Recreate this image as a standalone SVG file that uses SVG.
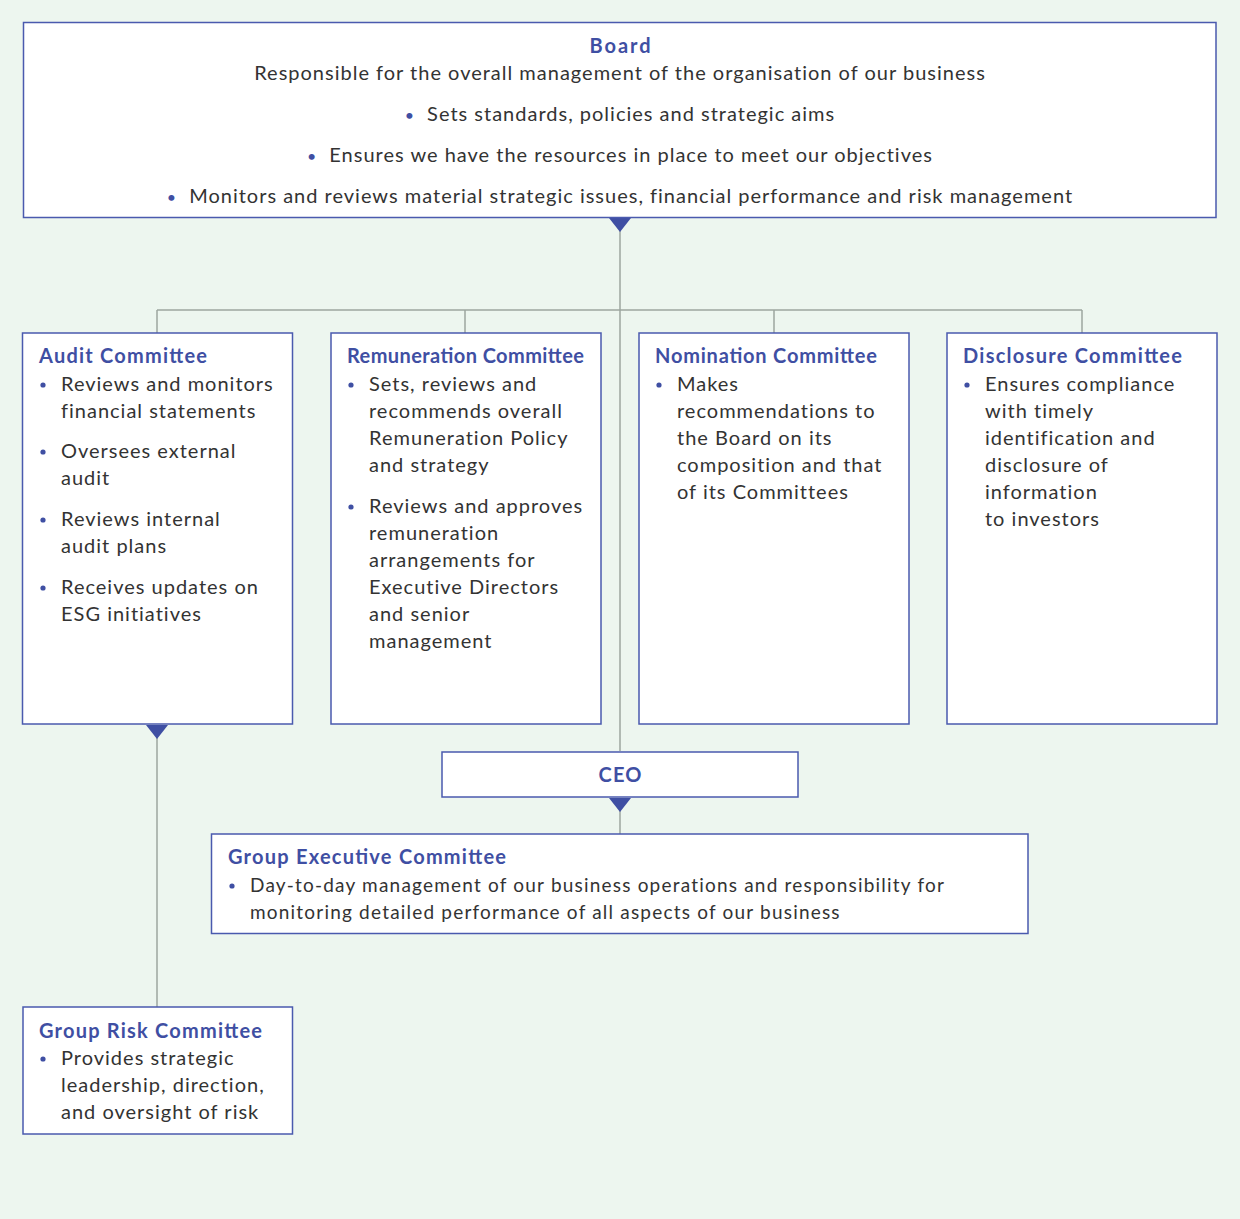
<svg xmlns="http://www.w3.org/2000/svg" width="1240" height="1219" viewBox="0 0 1240 1219">
<defs>
<style>
.bg{fill:#EDF6EF}
.box{fill:#FFFFFF;stroke:#4A5AAE;stroke-width:1.5}
.ln{stroke:#9DA69F;stroke-width:1.5;fill:none}
.tri{fill:#3F4FA3}
.t{font-family:Lato,"Noto Sans","Liberation Sans",sans-serif;font-weight:700;font-size:20px;fill:#3F4FA3}
.x{font-family:Lato,"Noto Sans","Liberation Sans",sans-serif;font-size:20px;fill:#333333;letter-spacing:1px}
.s{font-size:19px;letter-spacing:1.2px}
.b{fill:#3F4FA3;font-size:16px}
.dot{fill:#3F4FA3}
</style>
</defs>
<rect class="bg" x="0" y="0" width="1240" height="1219"/>

<g id="connectors">
<line class="ln" x1="620" y1="228" x2="620" y2="751"/>
<line class="ln" x1="157" y1="310" x2="1082" y2="310"/>
<line class="ln" x1="157" y1="310" x2="157" y2="333"/>
<line class="ln" x1="465" y1="310" x2="465" y2="333"/>
<line class="ln" x1="774" y1="310" x2="774" y2="333"/>
<line class="ln" x1="1082" y1="310" x2="1082" y2="333"/>
<line class="ln" x1="620" y1="806" x2="620" y2="834"/>
<line class="ln" x1="157" y1="734" x2="157" y2="1007"/>
<polygon class="tri" points="609,218 631,218 620,232"/>
<polygon class="tri" points="609,798 631,798 620,812"/>
<polygon class="tri" points="146,725 168,725 157,739"/>
</g>

<g id="board">
<rect class="box" x="23.5" y="22.5" width="1192.5" height="195"/>
<text class="t" x="620" y="53" text-anchor="middle" textLength="61" lengthAdjust="spacing">Board</text>
<text class="x" x="620" y="80" text-anchor="middle">Responsible for the overall management of the organisation of our business</text>
<text class="x" x="620" y="121" text-anchor="middle"><tspan class="b">•</tspan><tspan dx="12">Sets standards, policies and strategic aims</tspan></text>
<text class="x" x="620" y="162" text-anchor="middle"><tspan class="b">•</tspan><tspan dx="12">Ensures we have the resources in place to meet our objectives</tspan></text>
<text class="x" x="620" y="203" text-anchor="middle"><tspan class="b">•</tspan><tspan dx="12">Monitors and reviews material strategic issues, financial performance and risk management</tspan></text>
</g>

<g id="audit">
<rect class="box" x="22.5" y="333" width="270" height="391"/>
<text class="t" x="39" y="363" textLength="168" lengthAdjust="spacing">Audit Committee</text>
<circle class="dot" cx="43" cy="385" r="2.6"/>
<circle class="dot" cx="43" cy="452" r="2.6"/>
<circle class="dot" cx="43" cy="520" r="2.6"/>
<circle class="dot" cx="43" cy="588" r="2.6"/>
<text class="x"><tspan x="61" y="391">Reviews and monitors</tspan><tspan x="61" y="418">financial statements</tspan><tspan x="61" y="458">Oversees external</tspan><tspan x="61" y="485">audit</tspan><tspan x="61" y="526">Reviews internal</tspan><tspan x="61" y="553">audit plans</tspan><tspan x="61" y="594">Receives updates on</tspan><tspan x="61" y="621">ESG initiatives</tspan></text>
</g>

<g id="remuneration">
<rect class="box" x="331" y="333" width="270" height="391"/>
<text class="t" x="347" y="363" textLength="237" lengthAdjust="spacing">Remuneration Committee</text>
<circle class="dot" cx="351" cy="385" r="2.6"/>
<circle class="dot" cx="351" cy="507" r="2.6"/>
<text class="x"><tspan x="369" y="391">Sets, reviews and</tspan><tspan x="369" y="418">recommends overall</tspan><tspan x="369" y="445">Remuneration Policy</tspan><tspan x="369" y="472">and strategy</tspan><tspan x="369" y="513">Reviews and approves</tspan><tspan x="369" y="540">remuneration</tspan><tspan x="369" y="567">arrangements for</tspan><tspan x="369" y="594">Executive Directors</tspan><tspan x="369" y="621">and senior</tspan><tspan x="369" y="648">management</tspan></text>
</g>

<g id="nomination">
<rect class="box" x="639" y="333" width="270" height="391"/>
<text class="t" x="655" y="363" textLength="222" lengthAdjust="spacing">Nomination Committee</text>
<circle class="dot" cx="659" cy="385" r="2.6"/>
<text class="x"><tspan x="677" y="391">Makes</tspan><tspan x="677" y="418">recommendations to</tspan><tspan x="677" y="445">the Board on its</tspan><tspan x="677" y="472">composition and that</tspan><tspan x="677" y="499">of its Committees</tspan></text>
</g>

<g id="disclosure">
<rect class="box" x="947" y="333" width="270" height="391"/>
<text class="t" x="963" y="363" textLength="219" lengthAdjust="spacing">Disclosure Committee</text>
<circle class="dot" cx="967" cy="385" r="2.6"/>
<text class="x"><tspan x="985" y="391">Ensures compliance</tspan><tspan x="985" y="418">with timely</tspan><tspan x="985" y="445">identification and</tspan><tspan x="985" y="472">disclosure of</tspan><tspan x="985" y="499">information</tspan><tspan x="985" y="526">to investors</tspan></text>
</g>

<g id="ceo">
<rect class="box" x="442" y="752" width="356" height="45"/>
<text class="t" x="620" y="782" text-anchor="middle" textLength="43" lengthAdjust="spacing">CEO</text>
</g>

<g id="group-executive">
<rect class="box" x="211.5" y="834" width="816.5" height="99.5"/>
<text class="t" x="228" y="864" textLength="278" lengthAdjust="spacing">Group Executive Committee</text>
<circle class="dot" cx="232" cy="886" r="2.6"/>
<text class="x s"><tspan x="250" y="892">Day-to-day management of our business operations and responsibility for</tspan><tspan x="250" y="919">monitoring detailed performance of all aspects of our business</tspan></text>
</g>

<g id="group-risk">
<rect class="box" x="23" y="1007" width="269.5" height="127"/>
<text class="t" x="39" y="1038" textLength="223" lengthAdjust="spacing">Group Risk Committee</text>
<circle class="dot" cx="43" cy="1059" r="2.6"/>
<text class="x"><tspan x="61" y="1065">Provides strategic</tspan><tspan x="61" y="1092">leadership, direction,</tspan><tspan x="61" y="1119">and oversight of risk</tspan></text>
</g>
</svg>
